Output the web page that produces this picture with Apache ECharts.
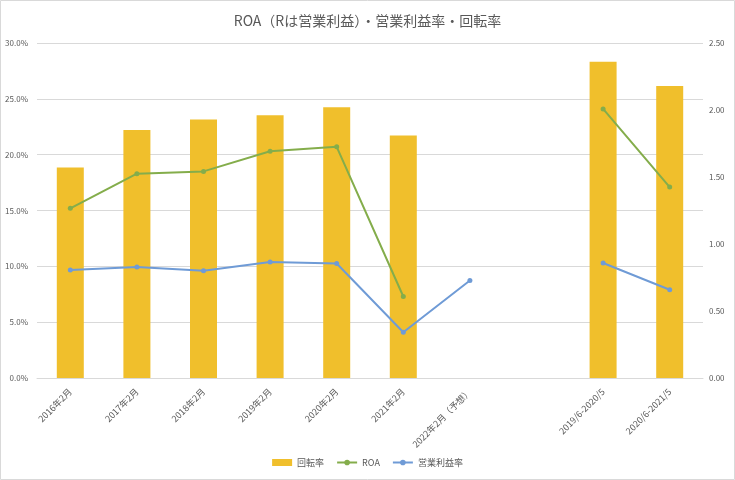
<!DOCTYPE html>
<html><head><meta charset="utf-8">
<script src="https://cdn.jsdelivr.net/npm/echarts@6/dist/echarts.min.js"></script>
<style>html,body{margin:0;padding:0;background:#fff}#c{width:735px;height:480px}</style>
</head><body><div id="c"></div>
<script>
const categories = ['2016年2月','2017年2月','2018年2月','2019年2月','2020年2月','2021年2月','2022年2月（予想）','','2019/6-2020/5','2020/6-2021/5'];
const turnover = [1.57,1.85,1.93,1.96,2.02,1.81,null,null,2.36,2.18];
const roa = [0.152,0.183,0.185,0.203,0.207,0.073,null,null,0.241,0.171];
const opMargin = [0.0967,0.0994,0.096,0.1039,0.1026,0.041,0.0873,null,0.103,0.079];
const leftTicks = [0,0.05,0.10,0.15,0.20,0.25,0.30];
const rightTicks = [0,0.5,1.0,1.5,2.0,2.5];

const font = '"Noto Sans CJK JP","Noto Sans",sans-serif';
const chart = echarts.init(document.getElementById('c'));
chart.setOption({
  animation:false,
  textStyle:{fontFamily:font},
  graphic:[{type:'rect',shape:{x:0.5,y:0.5,width:734,height:479},style:{fill:null,stroke:'#d9d9d9',lineWidth:1},silent:true}],
  title:{text:'ROA（Rは営業利益）・営業利益率・回転率',left:'center',top:9,textStyle:{fontSize:14,fontWeight:'normal',color:'#595959',fontFamily:font}},
  grid:{left:37,right:32,top:43,bottom:102},
  legend:{bottom:8,left:'center',itemWidth:20,itemHeight:7,itemGap:12,textStyle:{fontSize:9,color:'#595959',fontFamily:font},
    data:[{name:'回転率',icon:'rect'},{name:'ROA'},{name:'営業利益率'}]},
  xAxis:{type:'category',data:categories,
    axisLine:{lineStyle:{color:'#d9d9d9'}},axisTick:{show:false},
    axisLabel:{rotate:45,interval:0,fontSize:9,color:'#595959',margin:12,fontFamily:font}},
  yAxis:[
    {type:'value',min:leftTicks[0],max:leftTicks[leftTicks.length-1],interval:0.05,
     axisLabel:{fontSize:8,color:'#595959',formatter:v=>(v*100).toFixed(1)+'%',margin:9},
     splitLine:{lineStyle:{color:'#d9d9d9'}},axisLine:{show:false},axisTick:{show:false}},
    {type:'value',min:rightTicks[0],max:rightTicks[rightTicks.length-1],interval:0.5,
     axisLabel:{fontSize:8,color:'#595959',formatter:v=>v.toFixed(2),margin:6},
     splitLine:{show:false},axisLine:{show:false},axisTick:{show:false}}
  ],
  series:[
    {name:'回転率',type:'bar',yAxisIndex:1,data:turnover,barWidth:27,itemStyle:{color:'#F0BF2C'}},
    {name:'ROA',type:'line',yAxisIndex:0,data:roa,symbol:'circle',symbolSize:5,connectNulls:false,
     lineStyle:{width:2,color:'#84AD4B'},itemStyle:{color:'#84AD4B'}},
    {name:'営業利益率',type:'line',yAxisIndex:0,data:opMargin,symbol:'circle',symbolSize:5,connectNulls:false,
     lineStyle:{width:2,color:'#6F9BD6'},itemStyle:{color:'#6F9BD6'}}
  ]
});
</script></body></html>
